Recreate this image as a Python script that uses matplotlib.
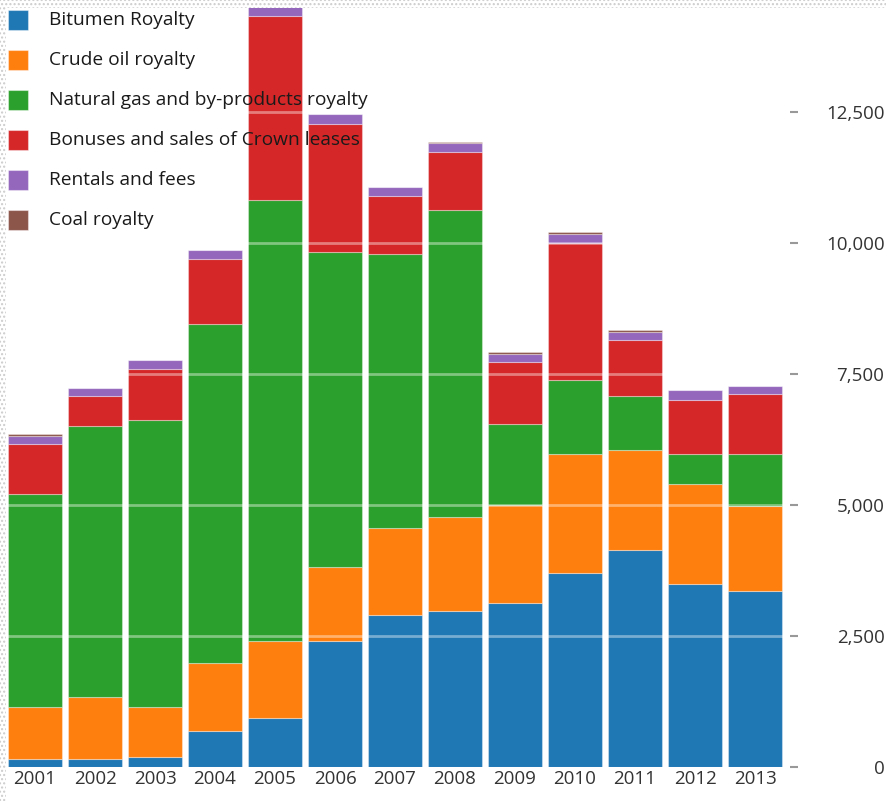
import numpy as np
import matplotlib.pyplot as plt
from matplotlib.patches import Rectangle

# values (millions of dollars)
years = ["2001", "2002", "2003", "2004", "2005", "2006", "2007",
         "2008", "2009", "2010", "2011", "2012", "2013"]
bitumen = [153, 153, 197, 693, 929, 2404, 2906, 2982, 3135, 3707, 4135, 3486, 3364]
crude_oil = [998, 1189, 954, 1297, 1481, 1418, 1649, 1794, 1865, 2259, 1908, 1908, 1616]
natural_gas = [4052, 5158, 5464, 6457, 8409, 6004, 5233, 5851, 1545, 1412, 1036, 572, 986]
bonuses = [954, 573, 985, 1246, 3511, 2436, 1101, 1101, 1177, 2614, 1062, 1031, 1151]
rentals = [153, 153, 160, 172, 180, 191, 183, 172, 153, 178, 159, 191, 147]
coal = [38, 5, 0, 0, 0, 0, 0, 31, 38, 38, 38, 0, 0]

series_names = ["Bitumen Royalty", "Crude oil royalty",
                "Natural gas and by-products royalty",
                "Bonuses and sales of Crown leases",
                "Rentals and fees", "Coal royalty"]
series_values = [bitumen, crude_oil, natural_gas, bonuses, rentals, coal]
colors = ["#1f77b4", "#ff7f0e", "#2ca02c", "#d62728", "#9467bd", "#8c564b"]
y_ticks = [0, 2500, 5000, 7500, 10000, 12500]

plt.rcParams['font.family'] = ['Open Sans', 'DejaVu Sans']

W, H = 887, 801
fig = plt.figure(figsize=(W / 100, H / 100), dpi=100)
fig.patch.set_facecolor("white")

# axes box in pixels: left 5, right 790, top 8, bottom 767
ax = fig.add_axes([5 / W, (H - 767) / H, 785 / W, 759 / H])
ax.set_facecolor("white")

x = np.arange(len(years))
bottom = np.zeros(len(years))
for vals, col in zip(series_values, colors):
    vals = np.array(vals, dtype=float)
    ax.bar(x, vals, width=0.9, bottom=bottom, color=col,
           edgecolor=(1, 1, 1, 0.35), linewidth=0.8, zorder=2)
    bottom += vals

ax.set_xlim(-0.5, 12.583)
ax.set_ylim(0, 14480)

# white gridlines drawn over the bars
for t in y_ticks[1:]:
    ax.axhline(t, color="white", alpha=0.4, linewidth=2, zorder=3)

for s in ax.spines.values():
    s.set_visible(False)

ax.set_xticks(x)
ax.set_xticklabels(years)
ax.tick_params(axis="x", length=0, pad=2, labelsize=13.5, labelcolor="#333333")

ax.yaxis.tick_right()
ax.set_yticks(y_ticks)
ax.set_yticklabels([f"{t:,}" for t in y_ticks])
ax.tick_params(axis="y", length=6, width=1.5, color="#999999",
               pad=62, labelsize=13.5, labelcolor="#333333")
for lab in ax.get_yticklabels():
    lab.set_horizontalalignment("right")

# legend drawn by hand, top left over the plot
for i, (name, col) in enumerate(zip(series_names, colors)):
    yc = 20 + 40 * i
    fig.patches.append(Rectangle((8 / W, (H - yc - 10) / H), 20 / W, 20 / H,
                                 transform=fig.transFigure, facecolor=col,
                                 edgecolor=(1, 1, 1, 0.4), linewidth=0.8,
                                 zorder=5))
    fig.text(49 / W, (H - yc) / H, name, fontsize=13.8, color="#1a1a1a",
             va="center", ha="left", zorder=6)

# speckled border along the top and left edges
fig.patches.append(Rectangle((0, (H - 8) / H), 1, 8 / H, transform=fig.transFigure,
                             facecolor="white", edgecolor="#cccccc",
                             hatch="....", linewidth=0, zorder=7))
fig.patches.append(Rectangle((0, 0), 6 / W, 1, transform=fig.transFigure,
                             facecolor="white", edgecolor="#cccccc",
                             hatch="....", linewidth=0, zorder=7))

fig.savefig("out.png", dpi=100)
